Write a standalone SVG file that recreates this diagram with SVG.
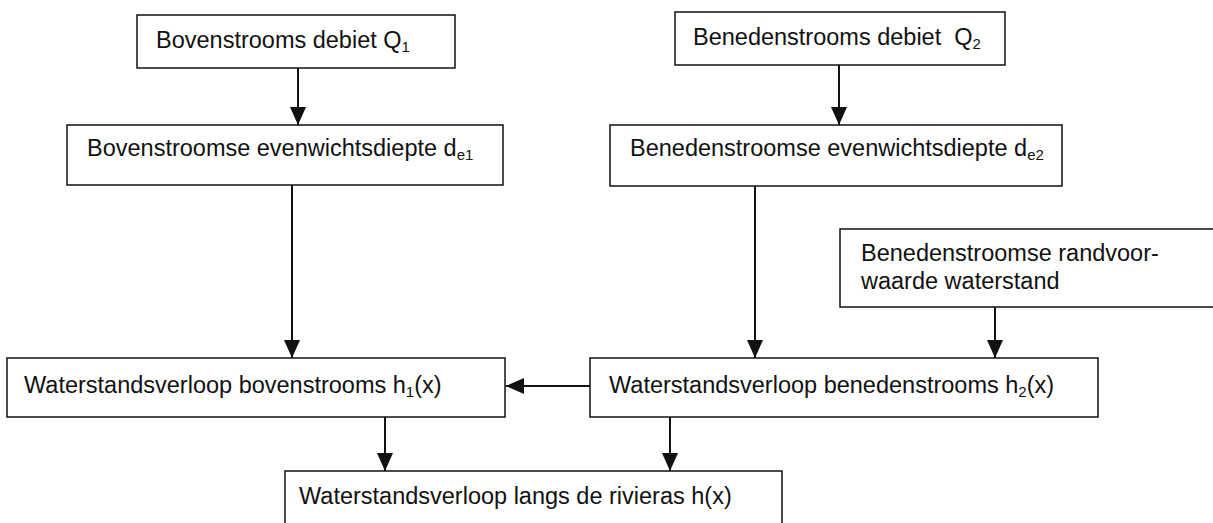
<svg xmlns="http://www.w3.org/2000/svg" width="1213" height="523" viewBox="0 0 1213 523">
  <style>
    .box { fill: #ffffff; stroke: #111111; stroke-width: 1.5; }
    .lbl { font-family: "Liberation Sans", Arial, sans-serif; font-size: 23.5px; fill: #111111; }
    .sub { font-size: 15px; }
    .edge { stroke: #111111; stroke-width: 2; fill: none; marker-end: url(#arrow); }
  </style>
  <defs>
    <marker id="arrow" viewBox="0 0 18 16" refX="18" refY="8" markerWidth="18" markerHeight="16" markerUnits="userSpaceOnUse" orient="auto">
      <path d="M0,0 L18,8 L0,16 Z" fill="#111111"/>
    </marker>
  </defs>
  <rect width="1213" height="523" fill="#ffffff"/>

  <g id="connectors">
    <line class="edge" x1="298" y1="68" x2="298" y2="125"/>
    <line class="edge" x1="839" y1="65" x2="839" y2="125"/>
    <line class="edge" x1="292" y1="185" x2="292" y2="358"/>
    <line class="edge" x1="755" y1="186" x2="755" y2="358"/>
    <line class="edge" x1="995" y1="307" x2="995" y2="358"/>
    <line class="edge" x1="590" y1="386" x2="506" y2="386"/>
    <line class="edge" x1="385" y1="417" x2="385" y2="471"/>
    <line class="edge" x1="670" y1="417" x2="670" y2="471"/>
  </g>

  <g id="q1">
    <rect class="box" x="137" y="15" width="318" height="53"/>
    <text class="lbl" x="156" y="48">Bovenstrooms debiet Q<tspan class="sub" dy="4">1</tspan></text>
  </g>
  <g id="q2">
    <rect class="box" x="675" y="12" width="330" height="53"/>
    <text class="lbl" x="693" y="45" xml:space="preserve">Benedenstrooms debiet  Q<tspan class="sub" dy="4">2</tspan></text>
  </g>
  <g id="de1">
    <rect class="box" x="67" y="125" width="436" height="60"/>
    <text class="lbl" x="87" y="156">Bovenstroomse evenwichtsdiepte d<tspan class="sub" dy="4">e1</tspan></text>
  </g>
  <g id="de2">
    <rect class="box" x="610" y="125" width="452" height="61"/>
    <text class="lbl" x="630" y="156">Benedenstroomse evenwichtsdiepte d<tspan class="sub" dy="4">e2</tspan></text>
  </g>
  <g id="randvoorwaarde">
    <path class="box" d="M1213,229 H840 V307 H1213"/>
    <text class="lbl" x="861" y="261">Benedenstroomse randvoor-</text>
    <text class="lbl" x="861" y="289">waarde waterstand</text>
  </g>
  <g id="h1">
    <rect class="box" x="7" y="358" width="498" height="59"/>
    <text class="lbl" x="24" y="393">Waterstandsverloop bovenstrooms h<tspan class="sub" dy="4">1</tspan><tspan dy="-4">(x)</tspan></text>
  </g>
  <g id="h2">
    <rect class="box" x="590" y="358" width="508" height="59"/>
    <text class="lbl" x="609" y="393">Waterstandsverloop benedenstrooms h<tspan class="sub" dy="4">2</tspan><tspan dy="-4">(x)</tspan></text>
  </g>
  <g id="h">
    <path class="box" d="M285,523 V471 H782 V523"/>
    <text class="lbl" x="299" y="504">Waterstandsverloop langs de rivieras h(x)</text>
  </g>
</svg>
